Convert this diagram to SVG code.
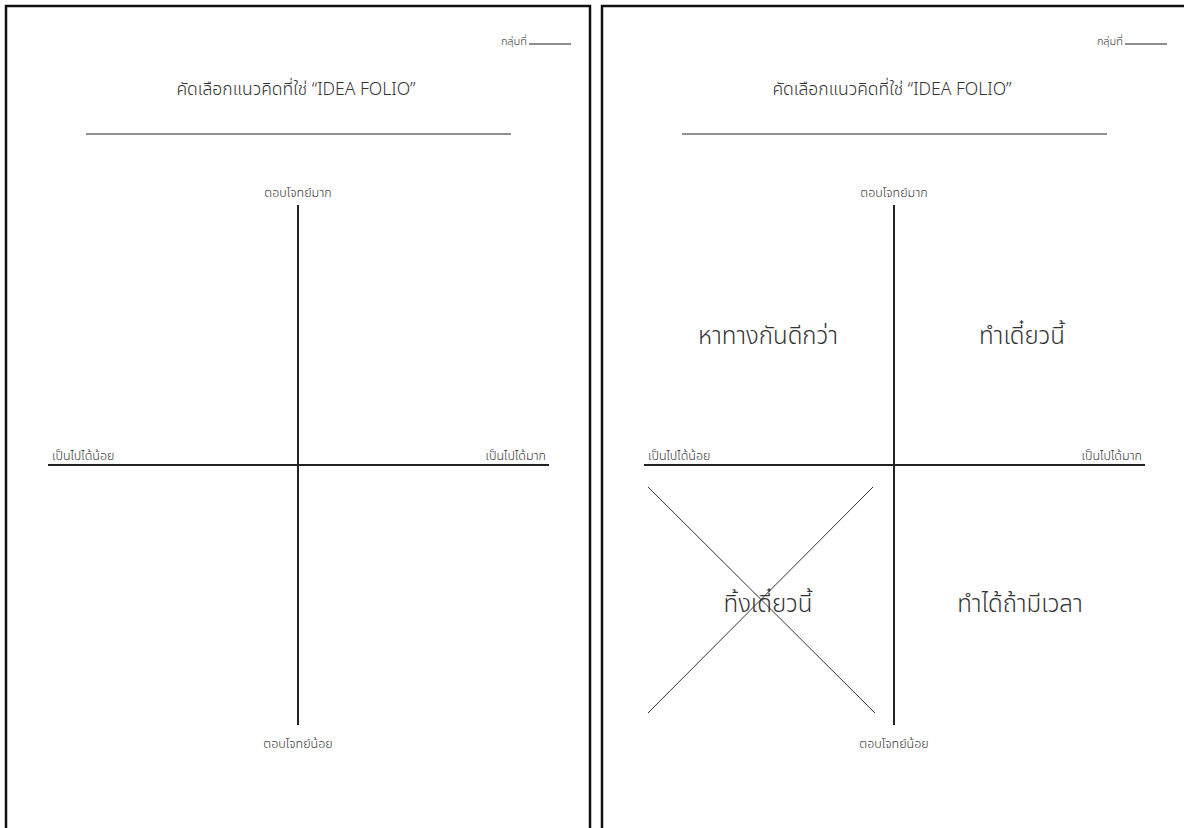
<svg xmlns="http://www.w3.org/2000/svg" width="1184" height="828" viewBox="0 0 1184 828">
<style>
.page{fill:#fff;stroke:#111;stroke-width:2.5}
.t{font-family:"Noto Sans","Noto Sans Thai","Liberation Sans",sans-serif;fill:#333;font-weight:300}
.title{font-size:17.5px;text-anchor:middle}
.grp{font-size:11px;text-anchor:end}
.ax{font-size:12.5px}
.q{font-size:24px;text-anchor:middle}
.rule{stroke:#222;stroke-width:1.2}
.axis{stroke:#222;stroke-width:2}
.cross{stroke:#333;stroke-width:1}
</style>
<rect width="1184" height="828" fill="#fff"/>
<defs>
<g id="sheet">
<rect class="page" x="6" y="6" width="584" height="840"/>
<text class="t grp" x="527" y="45">กลุ่มที่</text>
<line class="rule" x1="529" y1="44" x2="571" y2="44"/>
<text class="t title" x="296" y="95">คัดเลือกแนวคิดที่ใช่ “IDEA FOLIO”</text>
<line class="rule" x1="86" y1="134" x2="511" y2="134"/>
<line class="axis" x1="298" y1="205" x2="298" y2="725"/>
<line class="axis" x1="48" y1="465" x2="549" y2="465"/>
<text class="t ax" x="298" y="197" text-anchor="middle">ตอบโจทย์มาก</text>
<text class="t ax" x="298" y="748" text-anchor="middle">ตอบโจทย์น้อย</text>
<text class="t ax" x="52" y="460">เป็นไปได้น้อย</text>
<text class="t ax" x="546" y="460" text-anchor="end">เป็นไปได้มาก</text>
</g>
</defs>
<g id="page-left">
<use href="#sheet"/>
</g>
<g id="page-right" transform="translate(596,0)">
<use href="#sheet"/>
<g id="quadrants">
<text class="t q" x="172" y="344">หาทางกันดีกว่า</text>
<text class="t q" x="426" y="344">ทำเดี๋ยวนี้</text>
<text class="t q" x="172" y="612">ทิ้งเดี๋ยวนี้</text>
<text class="t q" x="424" y="612">ทำได้ถ้ามีเวลา</text>
</g>
<g id="cross-out">
<line class="cross" x1="52" y1="487" x2="279" y2="713"/>
<line class="cross" x1="277" y1="487" x2="52" y2="713"/>
</g>
</g>
</svg>
